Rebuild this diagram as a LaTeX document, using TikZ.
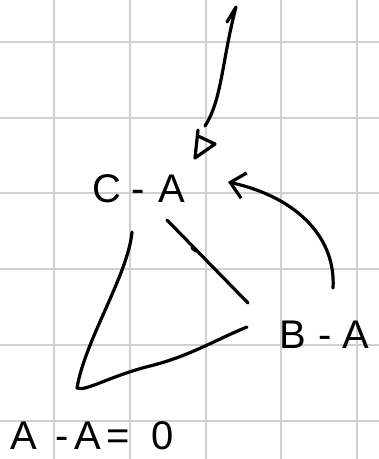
\documentclass[tikz,border=0pt]{standalone}
\usepackage{fontspec}
\setmainfont{Liberation Sans}
\usepackage{xcolor}
\usetikzlibrary{arrows.meta, positioning, calc}

\definecolor{gridgray}{RGB}{208,208,208}

\begin{document}
\begin{tikzpicture}[
      x=1pt, y=-1pt,
      gridline/.style={draw=gridgray, line width=2.5pt},
      pen/.style={draw=black, line width=3.2pt, line cap=round, line join=round},
      label/.style={inner sep=0pt, font=\fontsize{40}{42}\selectfont}
    ]
      \useasboundingbox[fill=white] (0,0) rectangle (379,459);
      % squared paper
      \foreach \gx in {54,130,206,281,357}
        \draw[gridline] (\gx,0) -- (\gx,459);
      \foreach \gy in {42,118,193,269,345,421}
        \draw[gridline] (0,\gy) -- (379,\gy);

      % labels
      \node[label] (ca) at (139,189) {C\hspace{10pt}-\hspace{14pt}A};
      \node[label] (ba) at (324,335) {B\hspace{13pt}-\hspace{10pt}A};
      \node[label] (aa) at (92,436) {A\hspace{18pt}-\hspace{6pt}A\hspace{5pt}=\hspace{22pt}0};

      % points
      \coordinate (top) at (236,7);
      \coordinate (hook) at (227,22);
      \coordinate (head) at (205,126);
      \coordinate (corner) at (77,388);
      \coordinate (catop) at (132,232);
      \coordinate (caside) at (167,220);
      \coordinate (baside) at (248,303);
      \coordinate (babot) at (247,327);
      \coordinate (bastart) at (333,288);
      \coordinate (catip) at (228,182);

      % long stroke from the top
      \draw[pen] (hook) -- (top) .. controls (222,60) and (222,100) .. (head);
      \draw[pen] (198,130) -- (195,158) -- (215,144) -- (198,136);

      % triangle
      \draw[pen] (catop) .. controls (128,275) and (85,340) .. (corner)
        .. controls (85,392) and (110,376) .. (150,366)
        .. controls (190,356) and (215,340) .. (babot);
      \draw[pen] (caside) -- (baside);
      \draw[pen] (192,248) -- (196,251);

      % curved arrow
      \draw[pen, -{Straight Barb[length=14pt, width=26pt, line width=3.2pt]}]
        (bastart) .. controls (336,240) and (300,198) .. (catip);
    \end{tikzpicture}
\end{document}
